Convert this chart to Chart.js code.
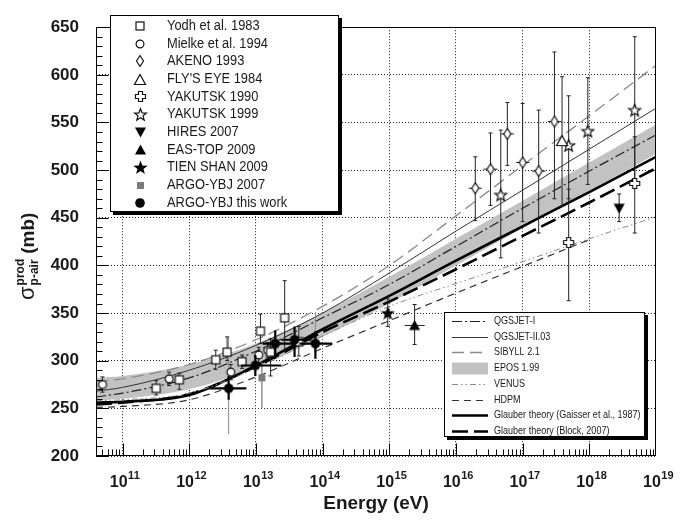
<!DOCTYPE html>
<html lang="en">
<head>
<meta charset="UTF-8">
<title>Proton-air production cross section</title>
<script src="https://cdn.jsdelivr.net/npm/chart.js"></script>
<style>
  html, body { margin: 0; padding: 0; background: #fff; }
  canvas { display: block; }
</style>
</head>
<body>
<canvas id="chart" width="687" height="525"></canvas>
<script>
// ---------- data (energy in eV, cross section in mb) ----------
// measurements: [E, sigma, sigma low, sigma high, (E low, E high)]
const yodh = [[3.2e11, 271, 264, 279], [7.1e11, 280, 270, 287], [2.5e12, 301, 291, 311],
  [3.7e12, 309, 300, 325], [6.2e12, 299, 292, 306], [1.17e13, 331, 318, 349],
  [1.66e13, 309, 284, 323], [2.7e13, 345, 311, 384], [4.4e13, 320, 305, 336]];
const mielke = [[5.0e10, 275, 267, 283], [5.0e11, 281, 274, 288], [4.2e12, 288, 280, 296],
  [1.1e13, 306, 298, 314], [1.5e13, 311, 303, 319]];
const akeno = [[1.95e16, 481, 447, 514, 1.55e16, 2.45e16], [3.3e16, 501, 463, 539, 2.6e16, 4.2e16],
  [5.9e16, 538, 505, 571, 4.7e16, 7.4e16], [1.0e17, 508, 446, 570, 8.0e16, 1.26e17],
  [1.74e17, 499, 434, 563, 1.38e17, 2.2e17], [3.0e17, 551, 470, 624, 2.4e17, 3.8e17]];
const flysEye = [[3.9e17, 531, 462, 598]];
const yakutsk1990 = [[4.9e17, 424, 363, 480], [4.8e18, 486, 434, 535]];
const yakutsk1999 = [[4.7e16, 474, 408, 542], [4.9e17, 526, 470, 578], [9.5e17, 541, 485, 597], [4.8e18, 563, 487, 640]];
const hires = [[2.8e18, 460, 446, 475]];
const easTop = [[2.4e15, 337, 317, 359, 1.7e15, 3.4e15]];
const tienShan = [[9.5e14, 350, 336, 365, 8.3e14, 1.1e15]];
const argo2007 = [[1.23e13, 282, 250, 299]];
const argoNow = [[3.9e12, 271, 259, 284, 2.0e12, 7.2e12], [9.8e12, 295, 284, 306, 6.0e12, 2.4e13],
  [1.95e13, 318, 302, 332, 1.26e13, 3.8e13], [3.8e13, 322, 304, 336, 2.4e13, 6.8e13],
  [7.8e13, 318, 302, 331, 4.5e13, 1.4e14]];
const argoSys = [[3.9e12, 223, 223, 325], [7.8e13, 302, 302, 351]];

// model predictions sampled at these energies
const curveE   = [4e10, 1e11, 1e12, 1e13, 1e14, 1e15, 1e16, 1e17, 1e18, 1e19];
const qgsjet1  = [262, 266, 282, 310, 345, 380, 420, 460, 499, 537];
const qgsjet2  = [268, 272, 290, 316, 350, 392, 436, 479, 522, 565];
const sibyll   = [278, 281, 296, 322, 357, 400, 452, 505, 557, 610];
const eposLow  = [258, 260, 270, 293, 325, 360, 400, 439, 478, 517];
const eposHigh = [282, 284, 296, 318, 350, 388, 428, 468, 508, 548];
const venus    = [258, 259, 266, 292, 326, 357, 381, 404, 428, 451];
const hdpm     = [251, 252, 259, 283, 313, 342, 371, 399, 427, null];
const gaisser  = [256, 257, 264, 295, 333, 368, 405, 441, 477, 514];
const block    = [254, 256, 265, 294, 330, 362, 396, 431, 466, 502];

const xTickExp = [11, 12, 13, 14, 15, 16, 17, 18, 19];

// ---------- markers ----------
function mk(w, h, fn) {
  const c = document.createElement('canvas');
  c.width = w; c.height = h;
  const g = c.getContext('2d');
  g.lineWidth = 1.2; g.strokeStyle = '#111'; g.fillStyle = '#fff';
  fn(g, w / 2, h / 2);
  return c;
}
function star(g, cx, cy, R, r) {
  g.beginPath();
  for (let k = 0; k < 10; k++) {
    const a = -Math.PI / 2 + k * Math.PI / 5, rr = k % 2 ? r : R;
    g.lineTo(cx + rr * Math.cos(a), cy + rr * Math.sin(a));
  }
  g.closePath();
}
const mSquare = mk(12, 12, g => { g.fillRect(2, 2, 8, 8); g.strokeRect(2, 2, 8, 8); });
const mCircle = mk(12, 12, (g, cx, cy) => { g.beginPath(); g.arc(cx, cy, 3.9, 0, 7); g.fill(); g.stroke(); });
const mDiamond = mk(10, 14, (g, cx, cy) => { g.beginPath(); g.moveTo(cx, 1.5); g.lineTo(8.5, cy); g.lineTo(cx, 12.5); g.lineTo(1.5, cy); g.closePath(); g.fill(); g.stroke(); });
const mTriOpen = mk(14, 13, (g, cx) => { g.beginPath(); g.moveTo(cx, 1.5); g.lineTo(12.5, 11.5); g.lineTo(1.5, 11.5); g.closePath(); g.fill(); g.stroke(); });
const mPlus = mk(13, 13, g => {
  g.beginPath();
  const a = 4.5, b = 8.5, lo = 1.5, hi = 11.5;
  g.moveTo(a, lo); g.lineTo(b, lo); g.lineTo(b, a); g.lineTo(hi, a); g.lineTo(hi, b); g.lineTo(b, b);
  g.lineTo(b, hi); g.lineTo(a, hi); g.lineTo(a, b); g.lineTo(lo, b); g.lineTo(lo, a); g.lineTo(a, a);
  g.closePath(); g.fill(); g.stroke();
});
const mStarOpen = mk(15, 15, (g, cx, cy) => { star(g, cx, cy + 0.5, 6.3, 2.7); g.fill(); g.stroke(); });
const mTriDown = mk(13, 12, (g, cx) => { g.fillStyle = '#000'; g.beginPath(); g.moveTo(1, 1.5); g.lineTo(12, 1.5); g.lineTo(cx, 11.5); g.closePath(); g.fill(); });
const mTriUp = mk(13, 12, (g, cx) => { g.fillStyle = '#000'; g.beginPath(); g.moveTo(cx, 0.5); g.lineTo(12, 10.5); g.lineTo(1, 10.5); g.closePath(); g.fill(); });
const mStarFull = mk(17, 17, (g, cx, cy) => { g.fillStyle = '#000'; star(g, cx, cy + 0.5, 7.5, 3.1); g.fill(); });
const mGrey = mk(9, 9, g => { g.fillStyle = '#7a7a7a'; g.fillRect(1, 1, 7, 7); });
const mDot = mk(12, 12, (g, cx, cy) => { g.fillStyle = '#000'; g.beginPath(); g.arc(cx, cy, 4.8, 0, 7); g.fill(); });

// ---------- datasets ----------
const thin = { color: '#222', width: 1, cap: 2 };
const expSet = (label, arr, marker, errStyle, order) => ({
  label, data: arr.map(p => ({ x: p[0], y: p[1] })), errs: arr, errStyle,
  pointStyle: marker, pointRadius: 5, showLine: false, order, leg: 1
});
const model = (label, vals, color, width, dash, extra) => Object.assign({
  label,
  data: curveE.map((e, i) => ({ x: e, y: vals[i] })).filter(p => p.y !== null),
  showLine: true, borderColor: color, borderWidth: width, borderDash: dash,
  pointRadius: 0, cubicInterpolationMode: 'monotone', fill: false, order: 8, leg: 2
}, extra);

const datasets = [
  expSet('Yodh et al. 1983', yodh, mSquare, thin, 2),
  expSet('Mielke et al. 1994', mielke, mCircle, thin, 2),
  expSet('AKENO 1993', akeno, mDiamond, thin, 2),
  expSet("FLY'S EYE 1984", flysEye, mTriOpen, thin, 2),
  expSet('YAKUTSK 1990', yakutsk1990, mPlus, thin, 2),
  expSet('YAKUTSK 1999', yakutsk1999, mStarOpen, thin, 2),
  expSet('HIRES 2007', hires, mTriDown, thin, 2),
  expSet('EAS-TOP 2009', easTop, mTriUp, thin, 2),
  expSet('TIEN SHAN 2009', tienShan, mStarFull, thin, 2),
  expSet('ARGO-YBJ 2007', argo2007, mGrey, { color: '#777', width: 1.2, cap: 0 }, 2),
  expSet('ARGO-YBJ this work', argoNow, mDot, { color: '#000', width: 2.2, cap: 0 }, 0),
  Object.assign(expSet('', argoSys, false, { color: '#888', width: 1, cap: 0 }, 3), { pointRadius: 0, leg: 0 }),
  model('QGSJET-I', qgsjet1, '#222', 1.2, [10, 3, 2, 3]),
  model('QGSJET-II.03', qgsjet2, '#333', 1, []),
  model('SIBYLL 2.1', sibyll, '#8a8a8a', 1.3, [12, 6]),
  model('', eposLow, 'rgba(0,0,0,0)', 0, [], { order: 10, leg: 0 }),
  model('EPOS 1.99', eposHigh, 'rgba(0,0,0,0)', 0, [], { order: 10, fill: '-1', backgroundColor: '#c2c2c2', band: true }),
  model('VENUS', venus, '#8a8a8a', 1, [6, 3, 1.5, 3, 1.5, 3]),
  model('HDPM', hdpm, '#333', 1.2, [7, 5]),
  model('Glauber theory (Gaisser et al., 1987)', gaisser, '#000', 2.6, []),
  model('Glauber theory (Block, 2007)', block, '#000', 2.6, [16, 6])
];

// ---------- plugins ----------
const SANS = '"Liberation Sans", Arial, Helvetica, sans-serif';

const errorBars = {
  id: 'errorBars',
  beforeDatasetDraw(chart, args) {
    const d = chart.data.datasets[args.index];
    if (!d.errs) return;
    const { ctx, scales: { x, y } } = chart;
    const s = d.errStyle;
    ctx.save();
    ctx.strokeStyle = s.color; ctx.lineWidth = s.width;
    ctx.beginPath();
    d.errs.forEach(p => {
      const px = x.getPixelForValue(p[0]), py = y.getPixelForValue(p[1]);
      const y0 = y.getPixelForValue(p[2]), y1 = y.getPixelForValue(p[3]);
      ctx.moveTo(px, y0); ctx.lineTo(px, y1);
      if (s.cap) {
        ctx.moveTo(px - s.cap, y0); ctx.lineTo(px + s.cap, y0);
        ctx.moveTo(px - s.cap, y1); ctx.lineTo(px + s.cap, y1);
      }
      if (p.length > 4) { ctx.moveTo(x.getPixelForValue(p[4]), py); ctx.lineTo(x.getPixelForValue(p[5]), py); }
    });
    ctx.stroke();
    ctx.restore();
  }
};

const frame = {
  id: 'frame',
  afterDatasetsDraw(chart) {
    const { ctx, chartArea: a, scales: { x, y } } = chart;
    ctx.save();
    ctx.strokeStyle = '#000'; ctx.lineWidth = 1;
    const L = Math.round(a.left) + 0.5, R = Math.round(a.right) - 0.5;
    const T = Math.round(a.top) + 0.5, B = Math.round(a.bottom) - 0.5;
    ctx.strokeRect(L, T, R - L, B - T);
    ctx.beginPath();
    for (let v = 200; v <= 650; v += 10) {
      const py = Math.round(y.getPixelForValue(v)) + 0.5;
      ctx.moveTo(L, py); ctx.lineTo(L + (v % 50 === 0 ? 12 : 6), py);
    }
    for (let n = 10; n <= 18; n++) {
      for (let m = 1; m <= 9; m++) {
        const v = m * Math.pow(10, n);
        if (v < x.min || v > x.max) continue;
        const px = Math.round(x.getPixelForValue(v)) + 0.5;
        ctx.moveTo(px, B); ctx.lineTo(px, B - (m === 1 ? 12 : 6));
      }
    }
    ctx.stroke();
    ctx.restore();
  }
};

const axisText = {
  id: 'axisText',
  afterDraw(chart) {
    const { ctx, scales: { x } } = chart;
    ctx.save();
    ctx.fillStyle = '#1a1a1a';
    ctx.textBaseline = 'alphabetic';
    xTickExp.forEach(n => {
      const px = x.getPixelForValue(Math.pow(10, n));
      ctx.font = 'bold 16px ' + SANS;
      const w1 = ctx.measureText('10').width;
      ctx.font = 'bold 11px ' + SANS;
      const w2 = ctx.measureText(String(n)).width;
      const x0 = px - (w1 + w2) / 2 + 2;
      ctx.font = 'bold 16px ' + SANS;
      ctx.fillText('10', x0, 487);
      ctx.font = 'bold 11px ' + SANS;
      ctx.fillText(String(n), x0 + w1 + 0.5, 479);
    });
    // y axis title: sigma^prod_p-air (mb)
    ctx.translate(34, 300);
    ctx.rotate(-Math.PI / 2);
    ctx.font = '22px ' + SANS;
    ctx.fillText('\u03c3', 0, 0);
    let off = ctx.measureText('\u03c3').width + 1;
    ctx.font = 'bold 12px ' + SANS;
    ctx.fillText('prod', off, -10);
    ctx.fillText('p-air', off, 4);
    off += Math.max(ctx.measureText('prod').width, ctx.measureText('p-air').width) + 5;
    ctx.font = 'bold 19px ' + SANS;
    ctx.fillText('(mb)', off, 0);
    ctx.restore();
  }
};

function box(ctx, x, y, w, h) {
  ctx.fillStyle = '#000';
  ctx.fillRect(x + 3, y + 3, w, h);
  ctx.fillStyle = '#fff';
  ctx.fillRect(x, y, w, h);
  ctx.strokeStyle = '#000'; ctx.lineWidth = 1;
  ctx.strokeRect(x + 0.5, y + 0.5, w - 1, h - 1);
}
function label(ctx, str, x, y, size, squeeze) {
  ctx.save();
  ctx.translate(x, y);
  ctx.scale(squeeze, 1);
  ctx.font = size + 'px ' + SANS;
  ctx.fillStyle = '#1a1a1a';
  ctx.textBaseline = 'middle';
  ctx.fillText(str, 0, 0);
  ctx.restore();
}

const legends = {
  id: 'legends',
  afterDraw(chart) {
    const ctx = chart.ctx;
    const ds = chart.data.datasets;
    ctx.save();
    box(ctx, 110, 15, 229, 197);
    ds.filter(d => d.leg === 1).forEach((d, i) => {
      const cy = 26 + i * 17.7;
      const m = d.pointStyle;
      ctx.drawImage(m, Math.round(140 - m.width / 2), Math.round(cy - m.height / 2));
      label(ctx, d.label, 167, cy, 14, 0.92);
    });
    box(ctx, 444, 312, 201, 125);
    ds.filter(d => d.leg === 2).forEach((d, i) => {
      const cy = Math.round(321 + i * 15.7) + 0.5;
      if (d.band) {
        ctx.fillStyle = d.backgroundColor;
        ctx.fillRect(452, cy - 6, 36, 12);
      } else {
        ctx.strokeStyle = d.borderColor; ctx.lineWidth = d.borderWidth;
        ctx.setLineDash(d.borderDash);
        ctx.beginPath(); ctx.moveTo(452, cy); ctx.lineTo(488, cy); ctx.stroke();
        ctx.setLineDash([]);
      }
      label(ctx, d.label, 494, cy, 10.5, 0.86);
    });
    ctx.restore();
  }
};

new Chart(document.getElementById('chart'), {
  type: 'scatter',
  data: { datasets },
  options: {
    responsive: false,
    animation: false,
    events: [],
    layout: { padding: { top: 12, right: 31, left: 0, bottom: 0 } },
    plugins: { legend: { display: false }, tooltip: { enabled: false } },
    scales: {
      x: {
        type: 'logarithmic',
        min: 4e10, max: 1e19,
        afterBuildTicks: s => { s.ticks = xTickExp.slice(0, -1).map(n => ({ value: Math.pow(10, n) })); },
        afterFit: s => { s.height = 69; },
        ticks: { display: false },
        grid: { color: '#222', lineWidth: 1, drawTicks: false },
        border: { display: false, dash: [1, 2] },
        title: { display: true, text: 'Energy (eV)', color: '#1a1a1a',
          font: { family: SANS, size: 19, weight: 'bold' }, padding: { top: 0, bottom: 10 } }
      },
      y: {
        min: 200, max: 650,
        afterFit: s => { s.width = 96; },
        ticks: { stepSize: 50, padding: 17, color: '#1a1a1a',
          font: { family: SANS, size: 17, weight: 'bold' } },
        grid: { color: '#222', lineWidth: 1, drawTicks: false },
        border: { display: false, dash: [1, 2] }
      }
    }
  },
  plugins: [errorBars, frame, axisText, legends]
});
</script>
</body>
</html>
